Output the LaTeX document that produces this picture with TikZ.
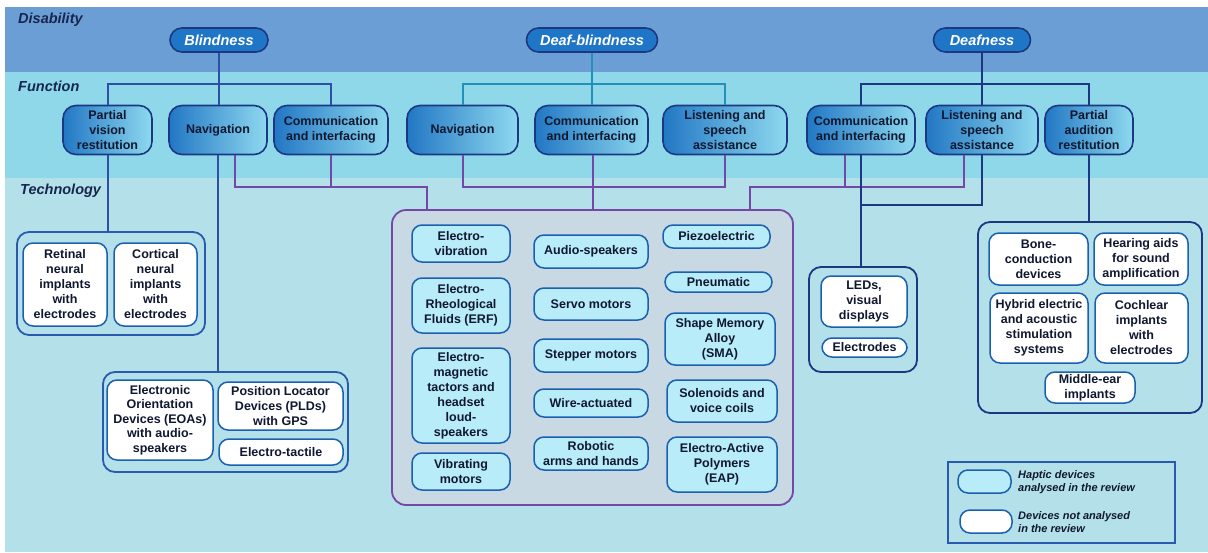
\documentclass[tikz,border=0pt]{standalone}
\usepackage{fontspec}
\setmainfont{Liberation Sans}
\definecolor{disband}{HTML}{6B9ED5}
\definecolor{funband}{HTML}{8FD8E9}
\definecolor{techband}{HTML}{B4E1E9}
\definecolor{disfill}{HTML}{1F76C6}
\definecolor{navy}{HTML}{1D3882}
\definecolor{bline}{HTML}{2F4FA5}
\definecolor{tline}{HTML}{2290B8}
\definecolor{pline}{HTML}{7548A8}
\definecolor{funL}{HTML}{2277C4}
\definecolor{funR}{HTML}{8ED9EF}
\definecolor{boxedge}{HTML}{1B60B0}
\definecolor{hapfill}{HTML}{B8ECF8}
\definecolor{bigfill}{HTML}{C8D9E3}
\definecolor{grpedge}{HTML}{2A5AAE}
\definecolor{txt}{HTML}{101830}
\definecolor{lbl}{HTML}{16264F}
\tikzset{
  dis/.style={fill=disfill, draw=navy, line width=1.6pt, rounded corners=12pt, text=white,
    font=\bfseries\itshape\fontsize{14.5}{16}\selectfont, inner sep=0pt, minimum height=24pt},
  fun/.style={left color=funL, right color=funR, draw=navy, line width=1.6pt, rounded corners=13pt,
    text=txt, align=center, font=\bfseries\fontsize{12.5}{15}\selectfont, inner sep=0pt, minimum height=49pt},
  grp/.style={draw=grpedge, line width=1.8pt, rounded corners=12pt, inner sep=0pt},
  wbox/.style={fill=white, draw=boxedge, line width=1.5pt, rounded corners=10pt, text=txt, align=center,
    font=\bfseries\fontsize{12.5}{15}\selectfont, inner sep=0pt},
  hbox/.style={fill=hapfill, draw=boxedge, line width=1.5pt, rounded corners=10pt, text=txt, align=center,
    font=\bfseries\fontsize{12.5}{15}\selectfont, inner sep=0pt},
  bandlabel/.style={text=lbl, font=\bfseries\itshape\fontsize{14.5}{16}\selectfont, anchor=west, inner sep=0pt},
  legtext/.style={text=txt, font=\bfseries\itshape\fontsize{11}{13}\selectfont, anchor=west, align=left, inner sep=0pt},
  bl/.style={draw=bline, line width=2pt},
  tl/.style={draw=tline, line width=2pt},
  nl/.style={draw=navy, line width=2pt},
  pl/.style={draw=pline, line width=2pt}
}
\begin{document}
\begin{tikzpicture}[x=1pt,y=-1pt]
\useasboundingbox (0,0) rectangle (1208,552);
\fill[white] (0,0) rectangle (1208,552);
\fill[disband] (5,7) rectangle (1208,72);
\fill[funband] (5,72) rectangle (1208,178);
\fill[techband] (5,178) rectangle (1208,552);

% band labels
\node[bandlabel] (ldis) at (18,20) {Disability};
\node[bandlabel] (lfun) at (18,86) {Function};
\node[bandlabel] (ltech) at (20,191) {Technology};

% disability nodes
\node[dis, minimum width=98pt] (blind) at (219,40) {Blindness};
\node[dis, minimum width=131pt] (deafblind) at (592,40) {Deaf-blindness};
\node[dis, minimum width=97pt] (deaf) at (982,40) {Deafness};

% function nodes
\node[fun, minimum width=89pt] (pvr) at (107.5,130) {Partial\\vision\\restitution};
\node[fun, minimum width=98pt] (bnav) at (218,130) {Navigation};
\node[fun, minimum width=114pt] (bcom) at (331,130) {Communication\\and interfacing};
\node[fun, minimum width=111pt] (dbnav) at (462.5,130) {Navigation};
\node[fun, minimum width=113pt] (dbcom) at (591.5,130) {Communication\\and interfacing};
\node[fun, minimum width=124pt] (dblis) at (725,130) {Listening and\\speech\\assistance};
\node[fun, minimum width=108pt] (dcom) at (861,130) {Communication\\and interfacing};
\node[fun, minimum width=112pt] (dlis) at (982,130) {Listening and\\speech\\assistance};
\node[fun, minimum width=88pt] (par) at (1089,130) {Partial\\audition\\restitution};

% coordinates for bars
\coordinate (bbar) at (0,84);
\coordinate (pbar) at (0,187);
\coordinate (nbar) at (0,205);

% big technology box
\node[draw=pline, fill=bigfill, line width=1.8pt, rounded corners=14pt, minimum width=401pt, minimum height=295pt, inner sep=0pt] (big) at (592.5,357.5) {};
\coordinate (bigA) at (427,210);
\coordinate (bigB) at (593,210);
\coordinate (bigC) at (750,210);

% left groups
\node[grp, minimum width=188pt, minimum height=103pt] (g1) at (111,283.5) {};
\node[wbox, minimum width=84pt, minimum height=83pt] (retinal) at (65,284.5) {Retinal\\neural\\implants\\with\\electrodes};
\node[wbox, minimum width=83pt, minimum height=83pt] (cortical) at (155.5,284.5) {Cortical\\neural\\implants\\with\\electrodes};

\node[grp, minimum width=245pt, minimum height=100pt] (g2) at (225.5,422) {};
\node[wbox, minimum width=106pt, minimum height=80pt, font=\bfseries\fontsize{12.5}{14.5}\selectfont] (eoa) at (160,420) {Electronic\\Orientation\\Devices (EOAs)\\with audio-\\speakers};
\node[wbox, minimum width=125pt, minimum height=48pt] (pld) at (280.5,406) {Position Locator\\Devices (PLDs)\\with GPS};
\node[wbox, minimum width=124pt, minimum height=26pt] (etac) at (281,452) {Electro-tactile};

% big box contents
\node[hbox, minimum width=98pt, minimum height=37pt] (ev) at (461,243.5) {Electro-\\vibration};
\node[hbox, minimum width=98pt, minimum height=55pt] (erf) at (461,305.5) {Electro-\\Rheological\\Fluids (ERF)};
\node[hbox, minimum width=98pt, minimum height=95pt] (emt) at (461,395.5) {Electro-\\magnetic\\tactors and\\headset\\loud-\\speakers};
\node[hbox, minimum width=98pt, minimum height=37pt] (vm) at (461,471.5) {Vibrating\\motors};

\node[hbox, minimum width=114pt, minimum height=33pt] (as) at (591,251.5) {Audio-speakers};
\node[hbox, minimum width=114pt, minimum height=32pt] (sm) at (591,304) {Servo motors};
\node[hbox, minimum width=114pt, minimum height=33pt] (stm) at (591,355.5) {Stepper motors};
\node[hbox, minimum width=114pt, minimum height=28pt] (wa) at (591,403) {Wire-actuated};
\node[hbox, minimum width=114pt, minimum height=33pt] (rob) at (591,453.5) {Robotic\\arms and hands};

\node[hbox, minimum width=107pt, minimum height=23pt] (pz) at (716.5,236.5) {Piezoelectric};
\node[hbox, minimum width=107pt, minimum height=20pt] (pn) at (718.5,282) {Pneumatic};
\node[hbox, minimum width=110pt, minimum height=52pt] (sma) at (720,339) {Shape Memory\\Alloy\\(SMA)};
\node[hbox, minimum width=110pt, minimum height=42pt] (sol) at (722,401) {Solenoids and\\voice coils};
\node[hbox, minimum width=110pt, minimum height=55pt] (eap) at (722,464.5) {Electro-Active\\Polymers\\(EAP)};

% right groups
\node[grp, draw=navy, minimum width=108pt, minimum height=105pt] (ledg) at (863,319.5) {};
\node[wbox, minimum width=86pt, minimum height=51pt] (led) at (864,301.5) {LEDs,\\visual\\displays};
\node[wbox, minimum width=85pt, minimum height=19pt] (elec) at (864.5,347.5) {Electrodes};

\node[grp, draw=navy, minimum width=224pt, minimum height=191pt] (rg) at (1090,317.5) {};
\node[wbox, minimum width=99pt, minimum height=52pt] (bone) at (1038.5,259) {Bone-\\conduction\\devices};
\node[wbox, minimum width=94pt, minimum height=52pt] (ha) at (1141,259) {Hearing aids\\for sound\\amplification};
\node[wbox, minimum width=98pt, minimum height=70pt] (hyb) at (1039,328) {Hybrid electric\\and acoustic\\stimulation\\systems};
\node[wbox, minimum width=93pt, minimum height=70pt] (coch) at (1141.5,328) {Cochlear\\implants\\with\\electrodes};
\node[wbox, minimum width=90pt, minimum height=31pt] (mid) at (1090,387.5) {Middle-ear\\implants};

% legend
\node[draw=grpedge, line width=1.8pt, minimum width=227pt, minimum height=81pt, inner sep=0pt] (leg) at (1061.5,502.5) {};
\node[hbox, minimum width=53pt, minimum height=23pt] (ls1) at (984.5,481.5) {};
\node[legtext] (lt1) at (1018,482) {Haptic devices\\analysed in the review};
\node[wbox, minimum width=52pt, minimum height=23pt] (ls2) at (986,521.5) {};
\node[legtext] (lt2) at (1018,522) {Devices not analysed\\in the review};

% disability -> function connectors
\draw[bl] (blind.south) -- (blind.south |- bnav.north);
\draw[bl] (pvr.north) |- (bcom.north |- bbar) -- (bcom.north);
\draw[tl] (deafblind.south) -- (deafblind.south |- dbcom.north);
\draw[tl] (dbnav.north) |- (dblis.north |- bbar) -- (dblis.north);
\draw[nl] (deaf.south) -- (deaf.south |- dlis.north);
\draw[nl] (dcom.north) |- (par.north |- bbar) -- (par.north);

% purple connectors to big box
\draw[pl] ([xshift=17pt]bnav.south) |- (bigA |- pbar) -- (bigA);
\draw[pl] (bcom.south) -- (bcom.south |- pbar);
\draw[pl] (dbnav.south) |- (dblis.south |- pbar) -- (dblis.south);
\draw[pl] (dbcom.south -| bigB) -- (bigB);
\draw[pl] (bigC) -- (bigC |- pbar) -| ([xshift=-18pt]dlis.south);
\draw[pl] ([xshift=-16pt]dcom.south) -- ([xshift=-16pt]dcom.south |- pbar);

% function -> technology connectors
\draw[bl] (pvr.south) -- (pvr.south |- g1.north);
\draw[bl] (bnav.south) -- (bnav.south |- g2.north);
\draw[nl] (dcom.south) -- (dcom.south |- ledg.north);
\draw[nl] (dlis.south) |- (dcom.south |- nbar);
\draw[nl] (par.south) -- (par.south |- rg.north);
\end{tikzpicture}
\end{document}
